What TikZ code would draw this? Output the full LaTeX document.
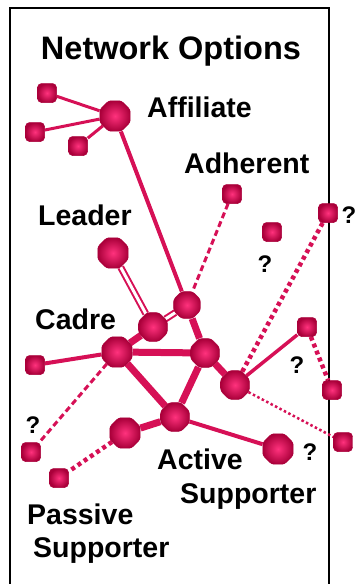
\documentclass[tikz,border=0pt]{standalone}
\usepackage{fontspec}
\setmainfont{Liberation Sans}
\usetikzlibrary{shapes.geometric,backgrounds}
\definecolor{mag}{RGB}{214,16,86}
\definecolor{magin}{RGB}{255,50,125}
\definecolor{magout}{RGB}{170,0,58}
\begin{document}
\begin{tikzpicture}[x=1pt,y=-1pt,
  bignode/.style={regular polygon, regular polygon sides=8, minimum size=33pt, inner sep=0pt,
    rounded corners=2.5pt, draw=magout, line width=0.5pt, inner color=magin, outer color=magout},
  midnode/.style={bignode, minimum size=31pt},
  smnode/.style={rectangle, rounded corners=4pt, minimum size=19pt, inner sep=0pt,
    draw=magout, line width=0.5pt, inner color=magin, outer color=magout},
  thickE/.style={draw=mag, line width=7pt},
  medE/.style={draw=mag, line width=4pt},
  thinE/.style={draw=mag, line width=3pt},
  dblE/.style={draw=mag, line width=2pt, double=white, double distance=3pt},
  dashE/.style={draw=mag, line width=3pt, dash pattern=on 6pt off 3.5pt},
  dotE/.style={draw=mag, line width=4.5pt, dash pattern=on 4pt off 3.5pt},
  fineDotE/.style={draw=mag, line width=2.5pt, dash pattern=on 2.5pt off 2.5pt},
  lbl/.style={font=\fontsize{28.5}{30}\selectfont\bfseries, anchor=base west, inner sep=0pt},
  ttl/.style={font=\fontsize{32.5}{34}\selectfont\bfseries, anchor=base, inner sep=0pt},
  qm/.style={font=\fontsize{24}{26}\selectfont\bfseries, inner sep=0pt}
]
\useasboundingbox (0,0) rectangle (356,584);
\begin{scope}[on background layer]
  \draw[line width=2.2pt] (10,592) -- (10,8) -- (329,8) -- (329,592);
\end{scope}

% nodes
\node[bignode] (af) at (115,116) {};
\node[smnode] (s1) at (47,93) {};
\node[smnode] (s2) at (35,132) {};
\node[smnode] (s3) at (78,146) {};
\node[smnode] (adh) at (232,194) {};
\node[bignode] (ld) at (113,253) {};
\node[smnode] (iso) at (272,232) {};
\node[smnode] (rt) at (328,213) {};
\node[midnode, minimum size=29pt] (n1) at (187,305) {};
\node[midnode] (n2) at (153,327) {};
\node[bignode] (cad) at (117,352) {};
\node[midnode] (n3) at (205,353) {};
\node[smnode] (rn) at (307,327) {};
\node[midnode] (n4) at (235,385) {};
\node[smnode] (rb) at (332,390) {};
\node[smnode] (ls) at (35,365) {};
\node[midnode] (act) at (175,417) {};
\node[bignode] (n5) at (125,433) {};
\node[bignode] (big2) at (278,449) {};
\node[smnode] (re) at (343,442) {};
\node[smnode] (ll) at (31,452) {};
\node[smnode] (lp) at (59,478) {};

% connectors
\begin{scope}[on background layer]
  \draw[thinE] (af) -- (s1);
  \draw[thinE] (af) -- (s2);
  \draw[thinE] (af) -- (s3);
  \draw[medE] (af) -- (n1);
  \draw[dashE] (adh) -- (n1);
  \draw[dblE] (ld) -- (n2);
  \draw[dblE] (n2) -- (n1);
  \draw[thickE] (cad) -- (n2);
  \draw[thickE] (cad) -- (n3);
  \draw[thickE] (n1) -- (n3);
  \draw[thickE] (n3) -- (n4);
  \draw[thickE] (cad) -- (act);
  \draw[thickE] (n3) -- (act);
  \draw[thickE] (act) -- (n5);
  \draw[medE] (act) -- (big2);
  \draw[medE] (cad) -- (ls);
  \draw[dashE] (cad) -- (ll);
  \draw[dotE] (n5) -- (lp);
  \draw[dotE] (n4) -- (rt);
  \draw[medE, line width=3.5pt] (n4) -- (rn);
  \draw[dotE] (rn) -- (rb);
  \draw[fineDotE] (n4) -- (re);
\end{scope}

% labels
\node[ttl] (title) at (171,59) {Network Options};
\node[lbl] (laf) at (147,117) {Affiliate};
\node[lbl] (ladh) at (184,173) {Adherent};
\node[lbl] (lld) at (38,225) {Leader};
\node[lbl] (lcad) at (35,329) {Cadre};
\node[lbl] (lact1) at (157,469) {Active};
\node[lbl] (lact2) at (180,503) {Supporter};
\node[lbl] (lpas1) at (27,524) {Passive};
\node[lbl] (lpas2) at (33,557) {Supporter};
\node[qm] (q1) at (265,264) {?};
\node[qm] (q2) at (349,215) {?};
\node[qm] (q3) at (297,365) {?};
\node[qm] (q4) at (33,425) {?};
\node[qm] (q5) at (310,452) {?};
\end{tikzpicture}
\end{document}
